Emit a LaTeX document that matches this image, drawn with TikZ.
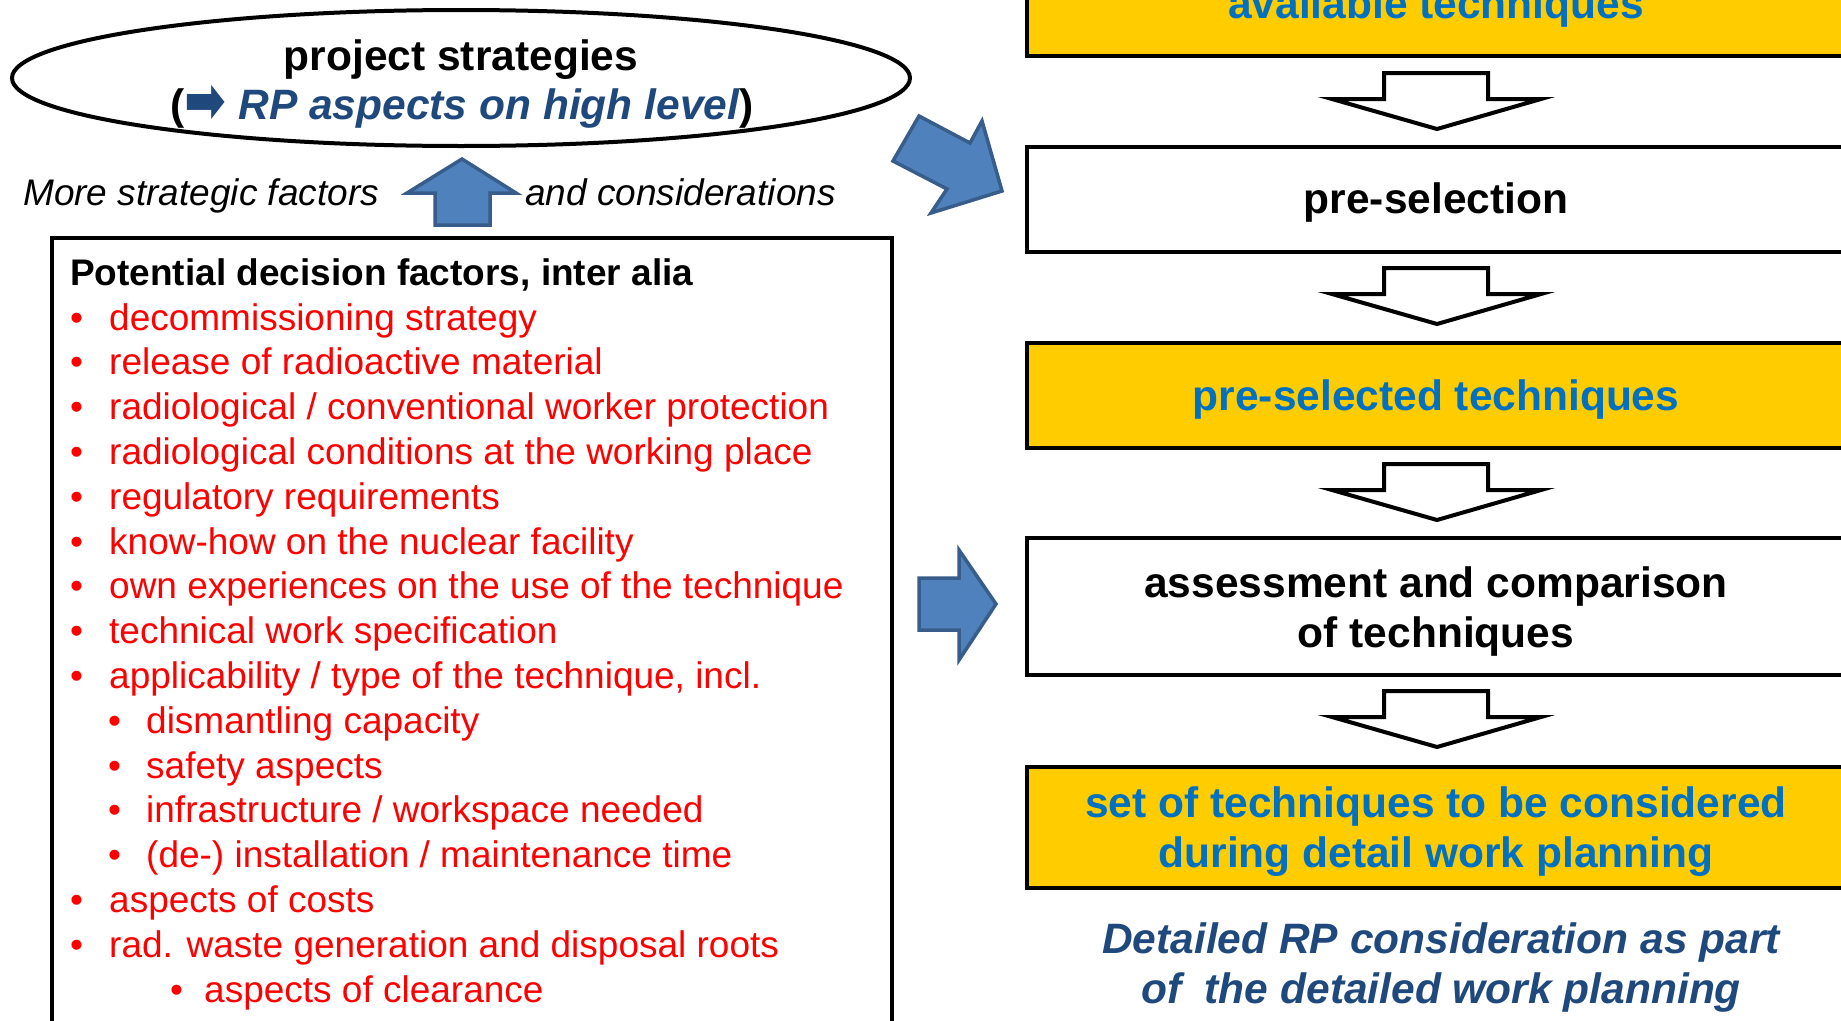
\documentclass[tikz,border=0pt]{standalone}
\usepackage{fontspec}
\usepackage{graphicx}
\setmainfont{Liberation Sans}
\newfontfamily\dejavu{DejaVu Sans}
\usetikzlibrary{shapes.geometric}
\definecolor{boxyellow}{HTML}{FFCC00}
\definecolor{txtblue}{HTML}{0070C0}
\definecolor{darkblue}{HTML}{1F497D}
\definecolor{arrowblue}{HTML}{4F81BD}
\definecolor{arrowedge}{HTML}{385D8A}
\definecolor{listred}{HTML}{FF0000}
\newcommand\bigfont{\fontsize{42.5}{50}\selectfont\bfseries}
\newcommand\lstfont{\fontsize{37}{45}\selectfont}
\begin{document}
\begin{tikzpicture}[x=1pt,y=-1pt,
  bigtxt/.style={font=\bigfont, inner sep=0, anchor=base},
  lst/.style={font=\lstfont, text=listred, inner sep=0, anchor=base west},
  side/.style={font=\lstfont\itshape, inner sep=0, anchor=base west},
  rbox/.style={draw=black, line width=4pt, minimum width=818pt, inner sep=0},
  yellowbox/.style={rbox, fill=boxyellow},
  whitebox/.style={rbox, fill=white},
  bluearrow/.style={fill=arrowblue, draw=arrowedge, line width=3.5pt, line join=miter},
  hollowarrow/.style={fill=white, draw=black, line width=4pt, line join=miter}]
\useasboundingbox (0,0) rectangle (1841,1020);
\fill[white] (0,0) rectangle (1841,1020);

% ---------- top-left ellipse ----------
\node[ellipse, draw=black, line width=4pt, minimum width=898pt, minimum height=136pt, inner sep=0] (strat) at (461,78) {};
\node[bigtxt] (strat1) at (461,70) {project strategies};
\node[bigtxt] (strat2) at (462,119) {(\textcolor{darkblue}{\raisebox{-3pt}{\scalebox{1.25}[1.6]{\dejavu\bfseries\fontsize{40}{40}\selectfont ➡}} \itshape RP aspects on high level})};

% ---------- up arrow and side texts ----------
\draw[bluearrow] (435,225) -- (435,193) -- (407,193) -- (462,159) -- (516,193) -- (490,193) -- (490,225) -- cycle;
\node[side] (more) at (23,205) {More strategic factors};
\node[side] (cons) at (525,205) {and considerations};

% ---------- left factor box ----------
\node[draw=black, line width=4pt, minimum width=840pt, minimum height=812pt, inner sep=0] (factors) at (472,644) {};
\node[font=\lstfont\bfseries, inner sep=0, anchor=base west] (ftitle) at (70,285) {Potential decision factors, inter alia};
\foreach \nm/\bx/\tx/\yy/\txt in {
  l1/70/109/330/{decommissioning strategy},
  l2/70/109/374.8/{release of radioactive material},
  l3/70/109/419.6/{radiological / conventional worker protection},
  l4/70/109/464.4/{radiological conditions at the working place},
  l5/70/109/509.2/{regulatory requirements},
  l6/70/109/554/{know-how on the nuclear facility},
  l7/70/109/598.8/{own experiences on the use of the technique},
  l8/70/109/643.6/{technical work specification},
  l9/70/109/688.4/{applicability / type of the technique, incl.},
  l10/108/146/733.2/{dismantling capacity},
  l11/108/146/778/{safety aspects},
  l12/108/146/822.8/{infrastructure / workspace needed},
  l13/108/146/867.6/{(de-) installation / maintenance time},
  l14/70/109/912.4/{aspects of costs},
  l15/70/109/957.2/{rad. waste generation and disposal roots},
  l16/170/204/1002/{aspects of clearance}}
{
  \node[lst] (\nm b) at (\bx,\yy) {•};
  \node[lst] (\nm) at (\tx,\yy) {\txt};
}

% ---------- right column boxes ----------
\node[yellowbox, minimum height=116pt] (avail) at (1436,-2) {};
\node[bigtxt, text=txtblue] (availt) at (1436,18) {available techniques};

\node[whitebox, minimum height=105pt] (presel) at (1436,199.5) {};
\node[bigtxt] (preselt) at (1436,213) {pre-selection};

\node[yellowbox, minimum height=105pt] (seltech) at (1436,395.5) {};
\node[bigtxt, text=txtblue] (seltecht) at (1436,410) {pre-selected techniques};

\node[whitebox, minimum height=137pt] (assess) at (1436,606.5) {};
\node[bigtxt] (assess1) at (1436,597) {assessment and comparison};
\node[bigtxt] (assess2) at (1436,647) {of techniques};

\node[yellowbox, minimum height=121pt] (set) at (1436,827.5) {};
\node[bigtxt, text=txtblue] (set1) at (1436,817) {set of techniques to be considered};
\node[bigtxt, text=txtblue] (set2) at (1436,867) {during detail work planning};

\node[bigtxt, text=darkblue, font=\bigfont\itshape] (det1) at (1441,953) {Detailed RP consideration as part};
\node[bigtxt, text=darkblue, font=\bigfont\itshape] (det2) at (1441,1003) {of\ \ the detailed work planning};

% ---------- hollow down arrows ----------
\newcommand\hollowdown[1]{%
  \draw[hollowarrow] (1384,#1) -- (1488,#1) -- (1488,#1+26) -- (1541,#1+26) -- (1437,#1+56) -- (1332,#1+26) -- (1384,#1+26) -- cycle;}
\hollowdown{73}
\hollowdown{268}
\hollowdown{464}
\hollowdown{691}

% ---------- blue block arrows ----------
\draw[bluearrow] (919,116) -- (970,143) -- (982,121) -- (1002,191) -- (931,213) -- (947,189) -- (893,161) -- cycle;
\draw[bluearrow] (919,578) -- (959,578) -- (959,550) -- (996,604) -- (959,660) -- (959,630) -- (919,630) -- cycle;
\end{tikzpicture}
\end{document}
